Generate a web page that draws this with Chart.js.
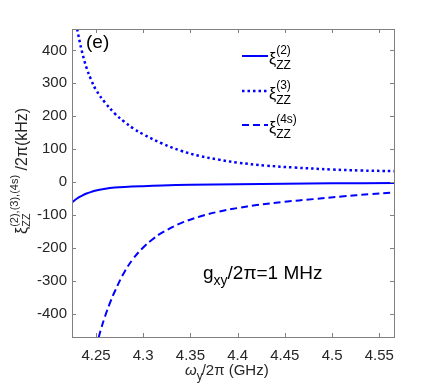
<!DOCTYPE html>
<html>
<head>
<meta charset="utf-8">
<script src="https://cdn.jsdelivr.net/npm/chart.js@4.4.1/dist/chart.umd.min.js"></script>
<style>
  html, body { margin: 0; padding: 0; background: #fff; }
</style>
</head>
<body>
<canvas id="zzChart" width="436" height="391"></canvas>
<script>
// xi_ZZ^(2) : solid
const xSolid = [4.2246, 4.230, 4.235, 4.240, 4.245, 4.250, 4.260, 4.270, 4.280, 4.300, 4.320, 4.350, 4.400, 4.450, 4.500, 4.5656];
const solidVals = [-62, -50, -42, -35, -30, -26, -20.5, -17, -15, -12.5, -10.5, -8.5, -6.5, -5, -4, -3];

// xi_ZZ^(3) : dotted
const xDotted = [4.230, 4.235, 4.240, 4.245, 4.250, 4.260, 4.270, 4.280, 4.290, 4.300, 4.320, 4.340, 4.360, 4.380, 4.400, 4.430, 4.460, 4.500, 4.530, 4.5656];
const dottedVals = [465, 398, 347, 310, 280, 240, 208, 183, 162, 145, 117, 95, 79, 68, 59, 50, 44, 38, 35, 33];

// xi_ZZ^(4s) : dashed
const xDashed = [4.250, 4.255, 4.260, 4.265, 4.270, 4.280, 4.290, 4.300, 4.310, 4.320, 4.340, 4.360, 4.380, 4.400, 4.420, 4.450, 4.480, 4.510, 4.540, 4.5656];
const dashedVals = [-505, -450, -405, -366, -332, -274, -231, -199, -174, -154, -125, -105, -90, -79, -70, -60, -52, -44, -37, -32];

const seriesSup = ['(2)', '(3)', '(4s)'];

const FONT = "'Liberation Sans', Arial, sans-serif";
const fnt = (size, style) => (style || '') + ' ' + size + 'px ' + FONT;
const BLUE = '#0000ff';
const AXIS = '#808080';
const TEXT = '#262626';

const toPoints = (xs, ys) => xs.map((x, i) => ({ x: x, y: ys[i] }));

// xi with a superscript and subscript stacked, returns x after it
function drawXi(ctx, x, y, mainSize, smallSize, sup, sub, supDy, subDy) {
    ctx.font = fnt(mainSize);
    ctx.fillText('ξ', x, y);
    x += ctx.measureText('ξ').width;
    ctx.font = fnt(smallSize);
    ctx.fillText(sup, x, y + supDy);
    ctx.fillText(sub, x, y + subDy);
    return x + Math.max(ctx.measureText(sup).width, ctx.measureText(sub).width);
}

const decorations = {
    id: 'decorations',
    afterDraw(chart) {
        const ctx = chart.ctx;
        const a = chart.chartArea;
        const xs = chart.scales.x, ys = chart.scales.y;
        ctx.save();

        // box + inward ticks on all sides
        ctx.strokeStyle = AXIS;
        ctx.lineWidth = 1;
        ctx.strokeRect(a.left + 0.5, a.top + 0.5, a.right - a.left, a.bottom - a.top);
        ctx.beginPath();
        xs.ticks.forEach(t => {
            const px = Math.round(xs.getPixelForValue(t.value)) + 0.5;
            ctx.moveTo(px, a.bottom); ctx.lineTo(px, a.bottom - 4);
            ctx.moveTo(px, a.top); ctx.lineTo(px, a.top + 4);
        });
        ys.ticks.forEach(t => {
            const py = Math.round(ys.getPixelForValue(t.value)) + 0.5;
            ctx.moveTo(a.left, py); ctx.lineTo(a.left + 4, py);
            ctx.moveTo(a.right, py); ctx.lineTo(a.right - 4, py);
        });
        ctx.stroke();

        ctx.textBaseline = 'alphabetic';
        ctx.textAlign = 'left';

        // panel tag
        ctx.fillStyle = '#000';
        ctx.font = fnt(19);
        ctx.fillText('(e)', a.left + 14, a.top + 19);

        // coupling note
        let gx = 203;
        ctx.font = fnt(19);
        ctx.fillText('g', gx, 279);
        gx += ctx.measureText('g').width;
        ctx.font = fnt(14);
        ctx.fillText('xy', gx, 285);
        gx += ctx.measureText('xy').width;
        ctx.font = fnt(19);
        ctx.fillText('/2π=1 MHz', gx, 279);

        // legend
        const legendY = [56, 91, 125];
        chart.data.datasets.forEach((ds, i) => {
            const y = legendY[i];
            ctx.save();
            ctx.strokeStyle = ds.borderColor;
            ctx.lineWidth = ds.borderWidth;
            ctx.setLineDash(ds.borderDash || []);
            ctx.beginPath();
            ctx.moveTo(242, y);
            ctx.lineTo(268, y);
            ctx.stroke();
            ctx.restore();
            ctx.fillStyle = '#000';
            drawXi(ctx, 269, y + 8, 16, 12, seriesSup[i], 'ZZ', -10, 5);
        });

        // x-axis title
        ctx.fillStyle = TEXT;
        let tx = 185;
        ctx.font = fnt(15, 'italic');
        ctx.fillText('ω', tx, 375);
        tx += ctx.measureText('ω').width;
        ctx.font = fnt(12);
        ctx.fillText('y', tx, 380);
        tx += ctx.measureText('y').width - 1;
        ctx.font = fnt(15);
        ctx.fillText('/2π (GHz)', tx, 375);

        // y-axis title (rotated)
        ctx.translate(27, 234);
        ctx.rotate(-Math.PI / 2);
        let ux = drawXi(ctx, 0, 0, 16, 11, '(2),(3),(4s)', 'ZZ', -9, 3);
        ctx.font = fnt(16);
        ctx.fillText(' /2π(kHz)', ux, 0);

        ctx.restore();
    }
};

const data = {
    datasets: [
        {
            label: 'xi2',
            data: toPoints(xSolid, solidVals),
            borderColor: BLUE,
            borderWidth: 2,
            tension: 0.4
        },
        {
            label: 'xi3',
            data: toPoints(xDotted, dottedVals),
            borderColor: BLUE,
            borderWidth: 2.5,
            borderDash: [2.5, 3],
            tension: 0.4
        },
        {
            label: 'xi4s',
            data: toPoints(xDashed, dashedVals),
            borderColor: BLUE,
            borderWidth: 2,
            borderDash: [7, 4],
            tension: 0.4
        }
    ]
};

const options = {
    responsive: false,
    animation: false,
    layout: { padding: { top: 29, right: 42, left: 0, bottom: 0 } },
    elements: { point: { radius: 0 } },
    plugins: { legend: { display: false }, tooltip: { enabled: false } },
    scales: {
        x: {
            type: 'linear',
            min: 4.2246,
            max: 4.5656,
            afterFit: s => { s.height = 54; },
            grid: { display: false, drawTicks: false },
            border: { display: false },
            ticks: {
                stepSize: 0.05,
                includeBounds: false,
                padding: 10,
                color: TEXT,
                font: { family: FONT, size: 15 },
                maxRotation: 0,
                callback: v => String(+v.toFixed(2))
            }
        },
        y: {
            min: -471,
            max: 465,
            afterFit: s => { s.width = 72; },
            grid: { display: false, drawTicks: false },
            border: { display: false },
            ticks: {
                stepSize: 100,
                includeBounds: false,
                padding: 5,
                color: TEXT,
                font: { family: FONT, size: 15 },
                callback: v => String(v)
            }
        }
    }
};

const ctx = document.getElementById('zzChart');
const zzChart = new Chart(ctx, {
    type: 'line',
    data: data,
    options: options,
    plugins: [decorations]
});
</script>
</body>
</html>
